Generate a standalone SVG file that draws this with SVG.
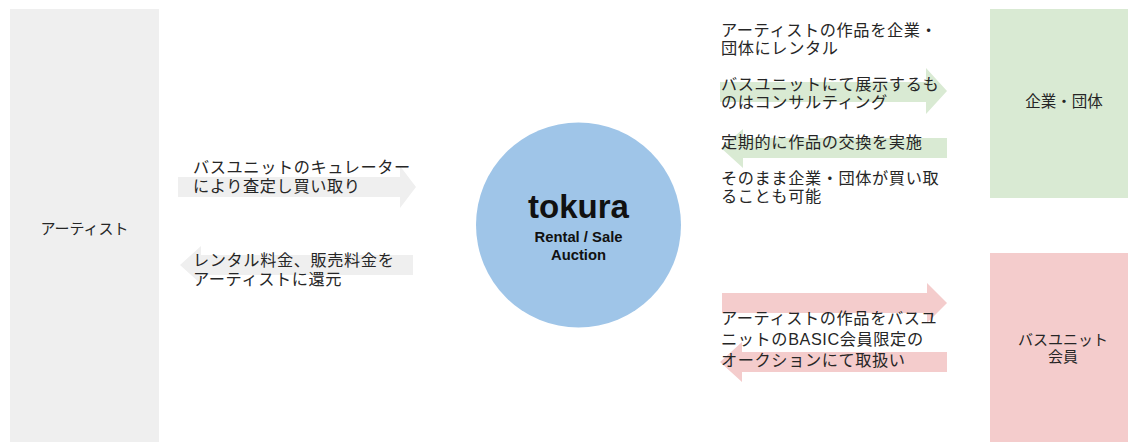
<svg xmlns="http://www.w3.org/2000/svg" width="1128" height="442" viewBox="0 0 1128 442">
<style>
.jp{font-family:"Liberation Sans","Noto Sans CJK JP",sans-serif;fill:#262626;font-size:16.2px;letter-spacing:0.6px}
.lbl{font-family:"Liberation Sans","Noto Sans CJK JP",sans-serif;fill:#262626;font-size:15px;text-anchor:middle}
.en{font-family:"Liberation Sans",Arial,sans-serif;font-weight:bold;fill:#111;text-anchor:middle}
.gray{fill:#efefef}
.green{fill:#d9ead3}
.pink{fill:#f4cccc}
</style>
<rect width="1128" height="442" fill="#ffffff"/>
<g id="artist">
<rect class="gray" x="10" y="9" width="149" height="440"/>
<text class="lbl" x="84.5" y="234">アーティスト</text>
</g>
<g id="company">
<rect class="green" x="990" y="9" width="148" height="189"/>
<text class="lbl" x="1064" y="107" style="font-size:15.5px">企業・団体</text>
</g>
<g id="members">
<rect class="pink" x="990" y="253" width="148" height="195"/>
<text class="lbl" x="1063" y="345"><tspan x="1063">バスユニット</tspan><tspan x="1063" dy="17">会員</tspan></text>
</g>
<g id="tokura">
<circle cx="578.5" cy="225" r="102.5" fill="#9fc5e8"/>
<text class="en" x="578.5" y="218" font-size="33">tokura</text>
<text class="en" x="578.5" y="242" font-size="14.8"><tspan x="578.5">Rental / Sale</tspan><tspan x="578.5" dy="18">Auction</tspan></text>
</g>
<g id="connectors">
<path class="gray" d="M178,177 H400 V166 L416,187 L400,208 V197 H178 Z"/>
<path class="gray" d="M413,255 H201 V246 L180,265 L201,284 V275 H413 Z"/>
<path class="green" d="M720,82 H926 V68 L947,91 L926,114 V102 H720 Z"/>
<path class="green" d="M947,138 H743 V129 L721,148 L743,168 V158 H947 Z"/>
<path class="pink" d="M722,293 H927 V283 L947,303 L927,323 V313 H722 Z"/>
<path class="pink" d="M947,352 H742 V342 L720,362 L742,382 V372 H947 Z"/>
</g>
<g id="labels">
<text class="jp" x="193" y="173"><tspan x="193">バスユニットのキュレーター</tspan><tspan x="193" dy="19">により査定し買い取り</tspan></text>
<text class="jp" x="193" y="266"><tspan x="193">レンタル料金、販売料金を</tspan><tspan x="193" dy="19">アーティストに還元</tspan></text>
<text class="jp" x="721" y="36"><tspan x="721">アーティストの作品を企業・</tspan><tspan x="721" dy="18">団体にレンタル</tspan></text>
<text class="jp" x="721" y="90"><tspan x="721">バスユニットにて展示するも</tspan><tspan x="721" dy="18">のはコンサルティング</tspan></text>
<text class="jp" x="721" y="148">定期的に作品の交換を実施</text>
<text class="jp" x="721" y="184"><tspan x="721">そのまま企業・団体が買い取</tspan><tspan x="721" dy="18">ることも可能</tspan></text>
<text class="jp" x="721" y="324"><tspan x="721">アーティストの作品をバスユ</tspan><tspan x="721" dy="21">ニットのBASIC会員限定の</tspan><tspan x="721" dy="21">オークションにて取扱い</tspan></text>
</g>
</svg>
